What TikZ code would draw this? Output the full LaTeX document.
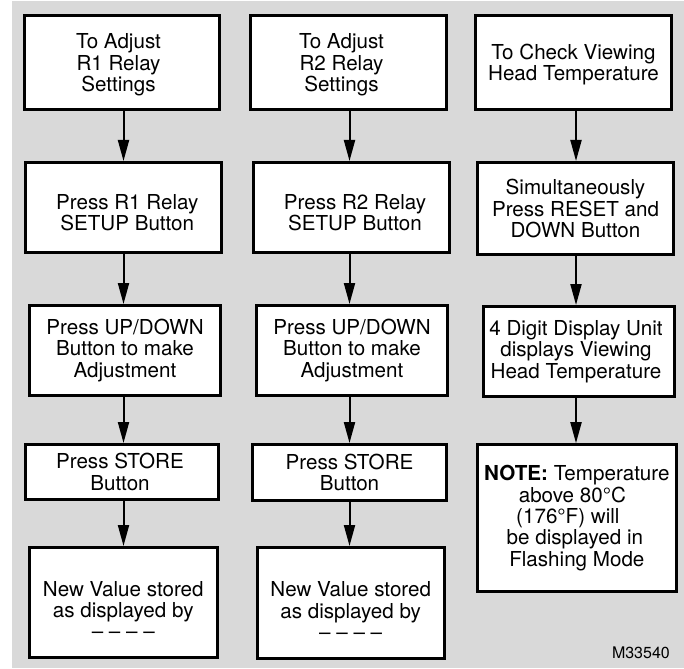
\documentclass[tikz,border=0pt]{standalone}
\usepackage{fontspec}
\setmainfont{TeX Gyre Heros}
\usetikzlibrary{arrows.meta}
\definecolor{panelgray}{HTML}{D9D9D9}
% first-line strut: pushes a box's text block down by half of #1
\newcommand\dropby[1]{\rule{0pt}{\dimexpr 15pt+#1\relax}}
\tikzset{
  stepbox/.style={draw=black, line width=3pt, fill=white, align=center,
    inner sep=0pt, font=\fontsize{20.6pt}{21.3pt}\selectfont},
  flow/.style={line width=2pt, -{Triangle[length=21pt,width=11pt]}},
  tag/.style={inner sep=0pt, font=\fontsize{16pt}{18pt}\selectfont},
}
\begin{document}
\begin{tikzpicture}[x=1pt,y=-1pt]
\useasboundingbox (0,0) rectangle (684,668);
\fill[panelgray] (12,1) rectangle (684,668);

% column axes for the connectors
\coordinate (colA) at (123.5,0);
\coordinate (colB) at (349.5,0);
\coordinate (colC) at (576,0);

% left column: R1 relay
\node[stepbox, minimum width=195pt, minimum height=94pt] (a1) at (121.5,62.5)
  {\dropby{5pt}\hspace*{-6pt}To Adjust\\\hspace*{-6pt}R1 Relay\\\hspace*{-6pt}Settings};
\node[stepbox, minimum width=195.5pt, minimum height=90pt] (a2) at (123.25,207.5)
  {\dropby{10pt}\hspace*{8pt}Press R1 Relay\\\hspace*{8pt}SETUP Button};
\node[stepbox, minimum width=191pt, minimum height=90pt] (a3) at (125,350.5)
  {Press UP/DOWN\\Button to make\\Adjustment};
\node[stepbox, minimum width=193pt, minimum height=55pt] (a4) at (122,472)
  {\hspace*{-4pt}Press STORE\\\hspace*{-4pt}Button};
\node[stepbox, minimum width=187.5pt, minimum height=110pt] (a5) at (123.25,602.5)
  {\dropby{15pt}New Value stored\\as displayed by\\– – – –};

% middle column: R2 relay
\node[stepbox, minimum width=196pt, minimum height=94pt] (b1) at (348.5,62.5)
  {\dropby{5pt}\hspace*{-14pt}To Adjust\\\hspace*{-14pt}R2 Relay\\\hspace*{-14pt}Settings};
\node[stepbox, minimum width=196pt, minimum height=90pt] (b2) at (351,207.5)
  {\dropby{10pt}\hspace*{8pt}Press R2 Relay\\\hspace*{8pt}SETUP Button};
\node[stepbox, minimum width=191pt, minimum height=90pt] (b3) at (352,350.5)
  {Press UP/DOWN\\Button to make\\Adjustment};
\node[stepbox, minimum width=194pt, minimum height=55.5pt] (b4) at (349.5,472.3)
  {Press STORE\\Button};
\node[stepbox, minimum width=187pt, minimum height=111pt] (b5) at (350.7,603)
  {\dropby{15pt}New Value stored\\as displayed by\\– – – –};

% right column: viewing head temperature
\node[stepbox, minimum width=196pt, minimum height=94pt] (c1) at (573.5,62.5)
  {\dropby{5pt}To Check Viewing\\Head Temperature};
\node[stepbox, minimum width=196pt, minimum height=92pt] (c2) at (575.5,208.5)
  {Simultaneously\\Press RESET and\\DOWN Button};
\node[stepbox, minimum width=191pt, minimum height=90pt] (c3) at (579,351.5)
  {\hspace*{-6pt}4 Digit Display Unit\\\hspace*{-6pt}displays Viewing\\\hspace*{-6pt}Head Temperature};
\node[stepbox, minimum width=198.5pt, minimum height=147pt] (c4) at (576.85,518.2)
  {\textbf{NOTE:} Temperature\\\hspace*{-9pt}above 80°C\\\hspace*{-18pt}(176°F) will\\\hspace*{-4pt}be displayed in\\Flashing Mode};

% connectors
\draw[flow] (a1.south -| colA) -- (a2.north -| colA);
\draw[flow] (a2.south -| colA) -- (a3.north -| colA);
\draw[flow] (a3.south -| colA) -- (a4.north -| colA);
\draw[flow] (a4.south -| colA) -- (a5.north -| colA);

\draw[flow] (b1.south -| colB) -- (b2.north -| colB);
\draw[flow] (b2.south -| colB) -- (b3.north -| colB);
\draw[flow] (b3.south -| colB) -- (b4.north -| colB);
\draw[flow] (b4.south -| colB) -- (b5.north -| colB);

\draw[flow] (c1.south -| colC) -- (c2.north -| colC);
\draw[flow] (c2.south -| colC) -- (c3.north -| colC);
\draw[flow] (c3.south -| colC) -- (c4.north -| colC);

% drawing number
\node[tag, anchor=base east] (code) at (670,658) {M33540};
\end{tikzpicture}
\end{document}
